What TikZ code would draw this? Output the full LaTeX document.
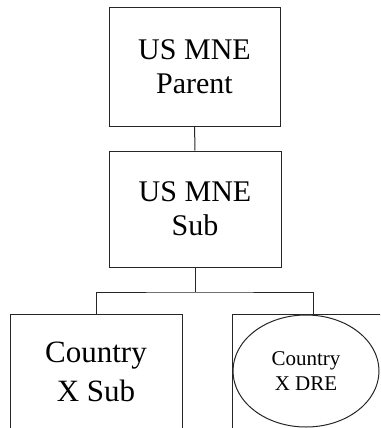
\documentclass[tikz,border=0pt]{standalone}
\usepackage{fontspec}
\setmainfont{Liberation Serif}
\usepackage{tikz}
\usetikzlibrary{positioning}
\usetikzlibrary{shapes.geometric}
\tikzset{box/.style = {draw, rectangle, inner sep = 0, align = center,
    font = \fontsize{30}{34}\selectfont}}
\tikzset{oval/.style = {draw, ellipse, inner sep = 0, align = center,
    minimum width = 146, minimum height = 112,
    font = \fontsize{21}{25}\selectfont}}

\begin{document}
\begin{tikzpicture}[x = 1pt, y = -1pt, line width = 1pt, draw = black!85]

    \useasboundingbox (0, 0) rectangle (380, 428);
    \clip (0, 0) rectangle (380, 428);

    \node [box, minimum width = 171, minimum height = 118] (0) at (194.5, 67) {US MNE\\Parent};
    \node [box, minimum width = 172, minimum height = 116] (1) at (195, 209) {US MNE\\Sub};
    \node [box, minimum width = 172, minimum height = 116,
      font = \fontsize{31}{39}\selectfont] (2) at (96, 372) {Country\\X Sub};
    \node [box, minimum width = 162, minimum height = 116] (3) at (313, 372) {};
    \node [oval] (4) at (306, 371) {Country\\X DRE};

    \coordinate (j) at (195, 292);

    \draw (0) -- (1);
    \draw (1) -- (j);
    \draw (2.north) |- (j) -| (3.north);
  \end{tikzpicture}
\end{document}
